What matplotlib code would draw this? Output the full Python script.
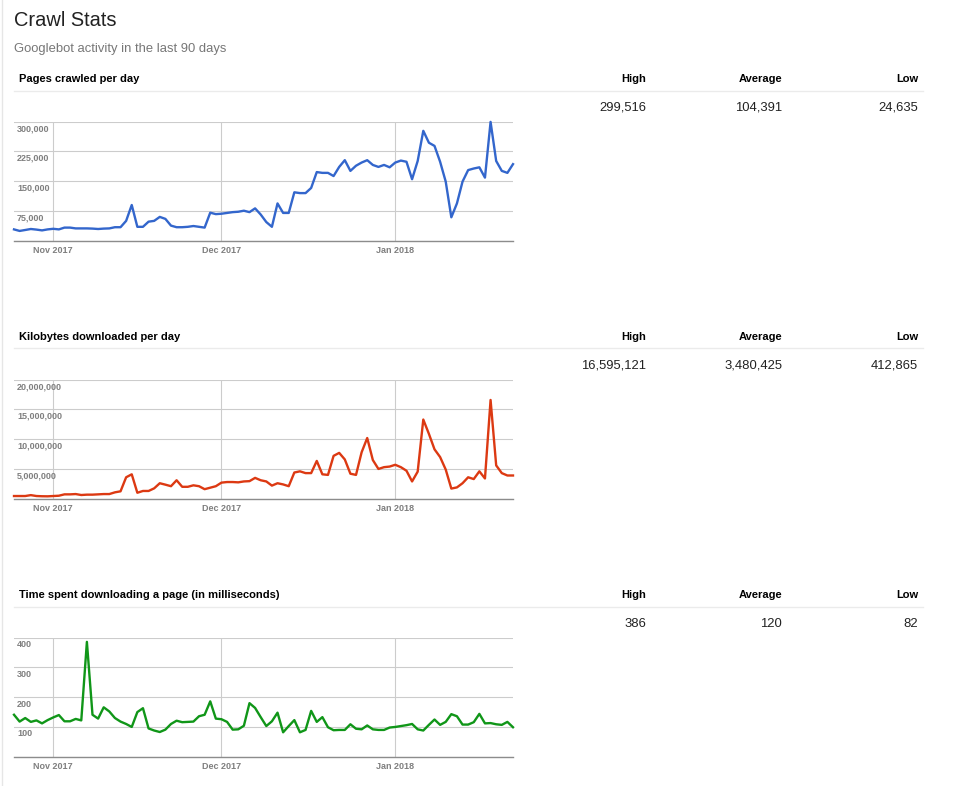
import matplotlib
matplotlib.use('Agg')
import matplotlib.pyplot as plt
import matplotlib.dates as mdates
import pandas as pd

plt.rcParams['font.family'] = ['Liberation Sans', 'DejaVu Sans']

days = pd.date_range('2017-10-25', periods=90, freq='D')

pages = [28500, 24635, 27000, 29500, 28000, 26000, 28500, 30000, 28500, 33000,
         33000, 31000, 31000, 31000, 30500, 29500, 30500, 31000, 34000, 34000,
         50000, 90000, 35000, 35000, 48000, 50000, 60000, 55000, 38000, 34000,
         34000, 35000, 37000, 35000, 33000, 70600, 67000, 68000, 70000, 72000,
         73000, 75600, 72000, 81500, 66000, 47000, 35000, 94000, 70000, 70000,
         122000, 120000, 120000, 133000, 173000, 171000, 171000, 163000, 186000, 203000,
         176000, 189000, 197000, 203000, 191000, 186000, 191000, 185000, 197000, 202000,
         199000, 155000, 201000, 277000, 247000, 239000, 199000, 149000, 59000, 94000,
         149000, 178000, 182000, 185000, 159000, 299516, 201000, 176000, 171000, 193000]

kilobytes = [450000, 450000, 450000, 600000, 450000, 412865, 400000, 450000, 500000, 730000,
             730000, 780000, 620000, 680000, 680000, 730000, 780000, 780000, 1070000, 1240000,
             3600000, 4100000, 1000000, 1300000, 1300000, 1740000, 2600000, 2360000, 2100000, 3100000,
             2000000, 2000000, 2250000, 2100000, 1600000, 1850000, 2100000, 2700000, 2800000, 2800000,
             2750000, 2900000, 2950000, 3500000, 3100000, 2900000, 2200000, 2600000, 2400000, 2100000,
             4400000, 4600000, 4300000, 4300000, 6350000, 4100000, 4000000, 7200000, 7700000, 6600000,
             4200000, 4000000, 7800000, 10200000, 6500000, 5000000, 5300000, 5400000, 5700000, 5300000,
             4700000, 2900000, 4550000, 13300000, 10900000, 8300000, 7000000, 4900000, 1700000, 1900000,
             2600000, 3600000, 3300000, 4600000, 3400000, 16595121, 5600000, 4300000, 3900000, 3900000]

time_ms = [141, 118, 130, 117, 122, 112, 123, 132, 140, 119,
           119, 127, 122, 386, 141, 128, 166, 152, 130, 118,
           110, 100, 150, 163, 95, 88, 83, 91, 110, 121,
           116, 117, 118, 136, 141, 186, 128, 126, 117, 91,
           92, 104, 180, 164, 133, 103, 119, 148, 82, 103,
           123, 82, 90, 154, 117, 133, 99, 89, 90, 90,
           109, 94, 92, 105, 92, 90, 90, 98, 100, 103,
           106, 110, 92, 88, 107, 125, 107, 117, 143, 136,
           108, 108, 116, 144, 112, 113, 109, 107, 117, 99]

titles = ['Pages crawled per day', 'Kilobytes downloaded per day',
          'Time spent downloading a page (in milliseconds)']
highs = ['299,516', '16,595,121', '386']
averages = ['104,391', '3,480,425', '120']
lows = ['24,635', '412,865', '82']
series = [pages, kilobytes, time_ms]
colors = ['#3366cc', '#dc3912', '#109618']
yticks = [[0, 75000, 150000, 225000, 300000],
          [0, 5000000, 10000000, 15000000, 20000000],
          [0, 100, 200, 300, 400]]
month_ticks = pd.to_datetime(['2017-11-01', '2017-12-01', '2018-01-01'])

W, H = 963, 786
fig = plt.figure(figsize=(W / 100, H / 100), dpi=100)


def fy(y):
    return 1 - y / H


fig.text(14 / W, fy(20), 'Crawl Stats', fontsize=14.4, color='#222222', va='center')
fig.text(14 / W, fy(49), 'Googlebot activity in the last 90 days', fontsize=9.4,
         color='#777777', va='center')
# faint page border on the left
fig.add_artist(plt.Line2D([1.5 / W, 1.5 / W], [0, 1], color='#e6e6e6', lw=1))

offsets = [0, 258, 516]
for k in range(3):
    off = offsets[k]
    fig.text(19 / W, fy(79 + off), titles[k], fontsize=8, fontweight='bold',
             color='#000000', va='center')
    for xr, lab in zip([646, 782, 918], ['High', 'Average', 'Low']):
        fig.text(xr / W, fy(79 + off), lab, fontsize=8, fontweight='bold',
                 color='#000000', va='center', ha='right')
    for xr, val in zip([646, 782, 918], [highs[k], averages[k], lows[k]]):
        fig.text(xr / W, fy(108 + off), val, fontsize=9.4, color='#222222',
                 va='center', ha='right')
    fig.add_artist(plt.Line2D([14 / W, 923 / W], [fy(90.5 + off)] * 2,
                              color='#ebebeb', lw=1))

    top, bottom = 121.7 + off, 240.7 + off
    ax = fig.add_axes([14 / W, fy(bottom), 499 / W, (bottom - top) / H])
    ax.plot(days, series[k], color=colors[k], lw=1.7, clip_on=False, zorder=3)
    ax.set_xlim(days[0], days[-1])
    ax.set_ylim(0, yticks[k][-1])
    ax.set_yticks(yticks[k])
    ax.set_yticklabels([])
    ax.set_xticks(month_ticks)
    ax.xaxis.set_major_formatter(mdates.DateFormatter('%b %Y'))
    ax.tick_params(length=0)
    ax.tick_params(axis='x', pad=4, labelsize=6.5, labelcolor='#7f7f7f')
    for lab in ax.get_xticklabels():
        lab.set_fontweight('bold')
    ax.grid(True, color='#cccccc', lw=0.8)
    for side in ['top', 'left', 'right']:
        ax.spines[side].set_visible(False)
    ax.spines['bottom'].set_color('#8c8c8c')
    ax.spines['bottom'].set_linewidth(1)
    ax.spines['bottom'].set_zorder(4)
    for v in yticks[k][1:]:
        ax.annotate(f'{v:,}', xy=(0, v), xycoords=('axes fraction', 'data'),
                    xytext=(2.2, -1.8), textcoords='offset points', ha='left', va='top',
                    fontsize=6.5, fontweight='bold', color='#7f7f7f')

fig.savefig('out.png', dpi=100)
